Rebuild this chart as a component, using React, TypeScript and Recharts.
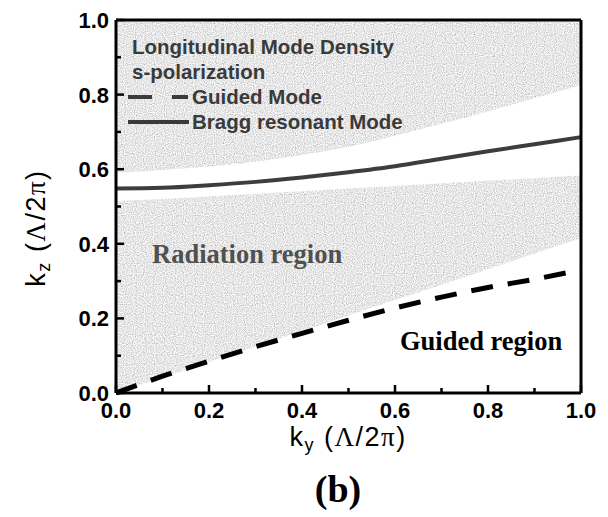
import React from 'react';
import {
  ComposedChart,
  Area,
  Line,
  XAxis,
  YAxis,
  ReferenceLine
} from 'recharts';

const ky = [0, 0.1, 0.2, 0.3, 0.4, 0.5, 0.6, 0.7, 0.8, 0.9, 1.0];
const bandUpper = [0.590, 0.598, 0.607, 0.620, 0.638, 0.660, 0.690, 0.722, 0.755, 0.790, 0.826];
const bandLower = [0.515, 0.520, 0.527, 0.534, 0.541, 0.548, 0.555, 0.562, 0.569, 0.576, 0.583];
const lightLine = [0, 0.042, 0.083, 0.125, 0.166, 0.208, 0.249, 0.290, 0.332, 0.374, 0.415];
const braggMode = [0.548, 0.550, 0.557, 0.566, 0.578, 0.592, 0.608, 0.628, 0.648, 0.667, 0.686];
const guidedMode = [0, 0.045, 0.085, 0.124, 0.16, 0.195, 0.228, 0.257, 0.283, 0.305, 0.33];
const axisTicks = [0, 0.1, 0.2, 0.3, 0.4, 0.5, 0.6, 0.7, 0.8, 0.9, 1.0];

const data = ky.map((k, i) => ({
  ky: k,
  upperGray: [bandUpper[i], 1],
  lowerGray: [lightLine[i], bandLower[i]],
  bragg: braggMode[i],
  guided: guidedMode[i]
}));

const sans = '"Liberation Sans", Arial, sans-serif';
const serif = '"Liberation Serif", "Times New Roman", serif';

const isMajor = (v: number) => Math.round(v * 10) % 2 === 0;

const XTick = (props: any) => {
  const { x, y, payload } = props;
  const v = payload.value as number;
  const major = isMajor(v);
  return (
    <g>
      <line x1={x} y1={y} x2={x} y2={y - (major ? 8 : 5)} stroke="#000" strokeWidth={2.5} />
      {major && (
        <text x={x} y={y + 25} textAnchor="middle" fontFamily={sans} fontWeight="bold" fontSize={22} fill="#000">
          {v.toFixed(1)}
        </text>
      )}
    </g>
  );
};

const YTick = (props: any) => {
  const { x, y, payload } = props;
  const v = payload.value as number;
  const major = isMajor(v);
  return (
    <g>
      <line x1={x} y1={y} x2={x + (major ? 8 : 5)} y2={y} stroke="#000" strokeWidth={2.5} />
      {major && (
        <text x={x - 7} y={y + 8} textAnchor="end" fontFamily={sans} fontWeight="bold" fontSize={22} fill="#000">
          {v.toFixed(1)}
        </text>
      )}
    </g>
  );
};

export default function App() {
  return (
    <div style={{ position: 'absolute', left: 0, top: 0, width: 608, height: 517, background: '#fff' }}>
      <ComposedChart
        width={608}
        height={517}
        data={data}
        margin={{ top: 20, right: 27, left: 56, bottom: 94 }}
      >
        <defs>
          <filter id="grain" filterUnits="userSpaceOnUse" x="0" y="0" width="300" height="300">
            <feTurbulence type="fractalNoise" baseFrequency="0.9" numOctaves="1" seed="7" />
            <feColorMatrix type="saturate" values="0" />
            <feComponentTransfer>
              <feFuncR type="linear" slope="1.4" intercept="0.1" />
              <feFuncG type="linear" slope="1.4" intercept="0.1" />
              <feFuncB type="linear" slope="1.4" intercept="0.1" />
              <feFuncA type="table" tableValues="1 1" />
            </feComponentTransfer>
          </filter>
          <pattern id="stipple" patternUnits="userSpaceOnUse" width="300" height="300">
            <rect width="300" height="300" fill="#cccccc" filter="url(#grain)" />
          </pattern>
        </defs>
        <XAxis
          type="number"
          dataKey="ky"
          domain={[0, 1]}
          ticks={axisTicks}
          interval={0}
          height={30}
          tickSize={0}
          tickMargin={0}
          tickLine={false}
          axisLine={{ stroke: '#000', strokeWidth: 3 }}
          tick={<XTick />}
        />
        <YAxis
          type="number"
          domain={[0, 1]}
          ticks={axisTicks}
          interval={0}
          width={60}
          tickSize={0}
          tickMargin={0}
          tickLine={false}
          axisLine={{ stroke: '#000', strokeWidth: 3 }}
          tick={<YTick />}
        />
        <Area
          type="monotone"
          dataKey="upperGray"
          stroke="none"
          fill="url(#stipple)"
          fillOpacity={1}
          isAnimationActive={false}
        />
        <Area
          type="monotone"
          dataKey="lowerGray"
          stroke="none"
          fill="url(#stipple)"
          fillOpacity={1}
          isAnimationActive={false}
        />
        <Line
          type="monotone"
          dataKey="bragg"
          stroke="#3d3d3d"
          strokeWidth={4}
          dot={false}
          isAnimationActive={false}
        />
        <Line
          type="monotone"
          dataKey="guided"
          stroke="#000"
          strokeWidth={5}
          strokeDasharray="22 15"
          dot={false}
          isAnimationActive={false}
        />
        <ReferenceLine y={1} stroke="#000" strokeWidth={3} />
        <ReferenceLine x={1} stroke="#000" strokeWidth={3} />
      </ComposedChart>
      <svg
        width={608}
        height={517}
        style={{ position: 'absolute', left: 0, top: 0, pointerEvents: 'none' }}
      >
        <g fontFamily={sans} fontWeight="bold" fontSize={20.5} fill="#3a3a3a">
          <text x={132} y={54}>Longitudinal Mode Density</text>
          <text x={132} y={79}>s-polarization</text>
          <text x={192} y={104}>Guided Mode</text>
          <text x={192} y={129}>Bragg resonant Mode</text>
        </g>
        <line x1={128} y1={97} x2={152} y2={97} stroke="#3a3a3a" strokeWidth={4} />
        <line x1={172} y1={97} x2={188} y2={97} stroke="#3a3a3a" strokeWidth={4} />
        <line x1={128} y1={122} x2={189} y2={122} stroke="#3a3a3a" strokeWidth={4} />
        <text x={152} y={263} fontFamily={serif} fontWeight="bold" fontSize={26.5} fill="#505050">
          Radiation region
        </text>
        <text x={400} y={350} fontFamily={serif} fontWeight="bold" fontSize={26.5} fill="#000">
          Guided region
        </text>
        <text x={348} y={446} textAnchor="middle" fontFamily={sans} fontSize={27} letterSpacing={1.5} fill="#000">
          k<tspan fontSize={18} dy={5}>y</tspan>
          <tspan dy={-5}> (</tspan>
          <tspan fontFamily={serif}>Λ</tspan>/2<tspan fontFamily={serif}>π</tspan>)
        </text>
        <text
          transform="translate(45,228) rotate(-90)"
          textAnchor="middle"
          fontFamily={sans}
          fontSize={27}
          letterSpacing={1.5}
          fill="#000"
        >
          k<tspan fontSize={18} dy={5}>z</tspan>
          <tspan dy={-5}> (</tspan>
          <tspan fontFamily={serif}>Λ</tspan>/2<tspan fontFamily={serif}>π</tspan>)
        </text>
        <text x={338} y={502} textAnchor="middle" fontFamily={serif} fontWeight="bold" fontSize={38} fill="#000">
          (b)
        </text>
      </svg>
    </div>
  );
}
